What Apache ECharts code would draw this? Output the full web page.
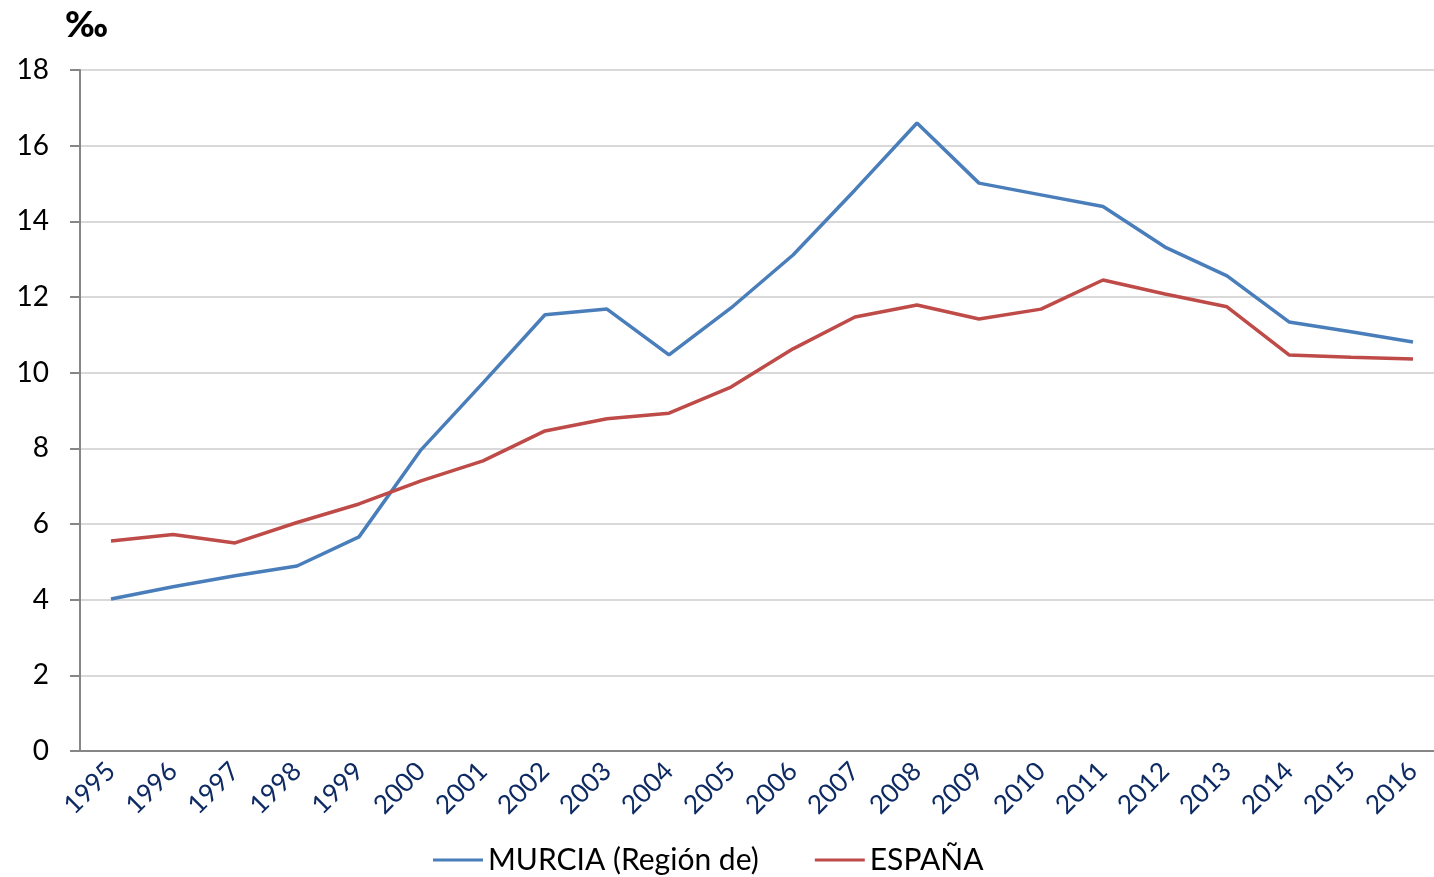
<!DOCTYPE html>
<html>
<head>
<meta charset="utf-8">
<script src="https://cdn.jsdelivr.net/npm/echarts@6/dist/echarts.min.js"></script>
<style>
  html, body { margin: 0; padding: 0; background: #fff; }
  #main { width: 1434px; height: 877px; }
</style>
</head>
<body>
<div id="main"></div>
<script>
const years = ['1995', '1996', '1997', '1998', '1999', '2000', '2001', '2002', '2003', '2004', '2005',
    '2006', '2007', '2008', '2009', '2010', '2011', '2012', '2013', '2014', '2015', '2016'];
const murcia = [4.02, 4.34, 4.63, 4.89, 5.66, 7.96, 9.73, 11.53, 11.68, 10.47, 11.71,
    13.11, 14.83, 16.60, 15.01, 14.70, 14.39, 13.32, 12.56, 11.34, 11.08, 10.81];
const espana = [5.55, 5.72, 5.50, 6.04, 6.53, 7.14, 7.67, 8.46, 8.78, 8.93, 9.62,
    10.63, 11.47, 11.79, 11.42, 11.68, 12.45, 12.08, 11.74, 10.47, 10.41, 10.36];

const font = 'Lato';

let options = {
    animation: false,
    textStyle: { fontFamily: font },
    title: {
        text: '‰',
        left: 60,
        top: 2,
        textStyle: { fontSize: 36, fontWeight: 900, color: '#000', fontFamily: font }
    },
    // axis runs a bit past the right edge, like the original
    grid: { left: 80, top: 70, width: 1364, height: 681, outerBoundsMode: 'none' },
    legend: {
        bottom: -3,
        left: 428,
        itemGap: 56,
        itemWidth: 50,
        itemHeight: 3,
        icon: 'rect',
        textStyle: { fontSize: 30, color: '#000', fontFamily: font },
        data: ['MURCIA (Región de)', 'ESPAÑA']
    },
    xAxis: {
        type: 'category',
        data: years,
        boundaryGap: true,
        axisLine: { lineStyle: { color: '#868686', width: 2 } },
        axisTick: { length: 8, lineStyle: { color: '#868686', width: 2 } },
        axisLabel: {
            interval: 0,
            rotate: 45,
            margin: 16,
            fontSize: 26,
            color: '#0e2a63',
            fontFamily: font
        }
    },
    yAxis: {
        type: 'value',
        min: 0,
        max: 18,
        interval: 2,
        axisLine: { show: true, lineStyle: { color: '#868686', width: 2 } },
        axisTick: { show: true, length: 10, lineStyle: { color: '#868686', width: 2 } },
        axisLabel: { fontSize: 28, color: '#000', margin: 31, fontFamily: font },
        splitLine: { lineStyle: { color: '#d9d9d9', width: 2 } }
    },
    series: [
        {
            name: 'MURCIA (Región de)',
            type: 'line',
            data: murcia,
            symbol: 'none',
            lineStyle: { color: '#4a7ebb', width: 3.5 },
            itemStyle: { color: '#4a7ebb' }
        },
        {
            name: 'ESPAÑA',
            type: 'line',
            data: espana,
            symbol: 'none',
            lineStyle: { color: '#be4b48', width: 3.5 },
            itemStyle: { color: '#be4b48' }
        }
    ]
};

let myChart = echarts.init(document.getElementById('main'));
myChart.setOption(options);
</script>
</body>
</html>
